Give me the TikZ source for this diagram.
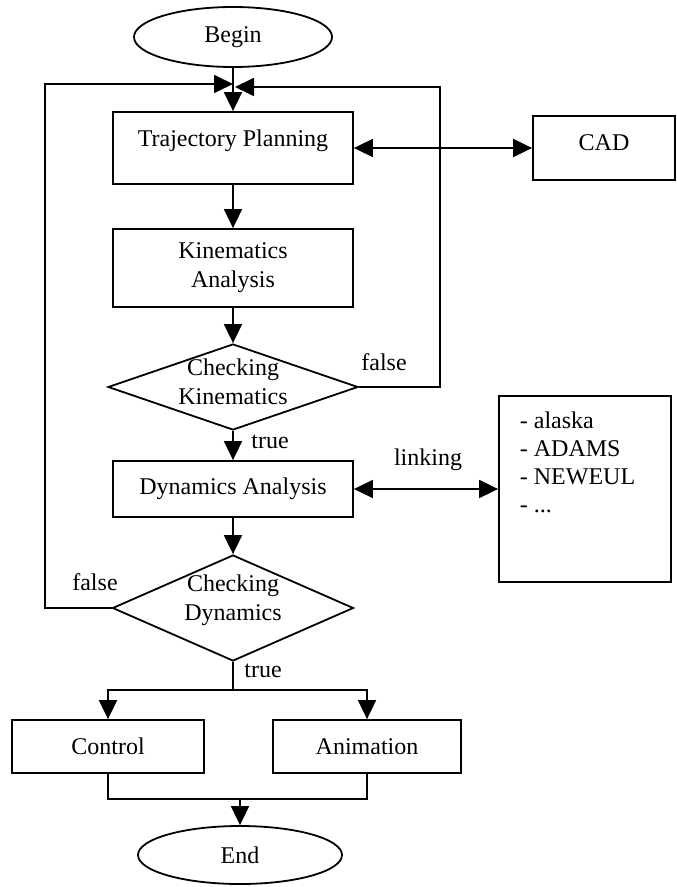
\documentclass[tikz,border=0pt]{standalone}
\usepackage{fontspec}
\setmainfont{Liberation Serif}
\usetikzlibrary{shapes.geometric,arrows.meta}
\begin{document}
\begin{tikzpicture}[x=0.5pt,y=-0.5pt,line width=0.9pt,>={Triangle[length=9.5pt,width=9pt]},font=\fontsize{12}{14.5}\selectfont,
        box/.style={draw,rectangle,minimum width=120pt,align=center,inner sep=0pt},
        oval/.style={draw,ellipse,inner sep=0pt},dia/.style={draw,diamond,inner sep=0pt}]
        \useasboundingbox(0,0)rectangle(676,887);
        \node[oval,minimum width=99pt,minimum height=30pt](begin)at(233,37){Begin};
        \node[box,minimum height=36pt,text depth=9.4pt](traj)at(233,148){Trajectory Planning};
        \node[box,minimum width=71pt,minimum height=32pt,text depth=5pt](cad)at(604,148){CAD};
        \node[box,minimum height=39pt](kin)at(233,268){Kinematics\\Analysis};
        \node[dia,minimum width=125pt,minimum height=43pt](chkin)at(233,387){};
        \node[align=center,inner sep=0pt](chkintxt)at(233,382){Checking\\Kinematics};
        \node[box,minimum height=28pt](dyn)at(233,489){Dynamics Analysis};
        \node[box,minimum width=86pt,minimum height=93pt](tools)at(585,489){};
        \node[anchor=west,align=left,inner sep=0pt,font=\fontsize{12}{14}\selectfont](toolstxt)at(519,462){- alaska\\- ADAMS\\- NEWEUL\\- ...};
        \node[dia,minimum width=120.5pt,minimum height=53pt](chdyn)at(233,608){};
        \node[align=center,inner sep=0pt](chdyntxt)at(233,600){Checking\\Dynamics};
        \node[box,minimum width=96pt,minimum height=26.5pt](ctrl)at(108,746.5){Control};
        \node[box,minimum width=94pt,minimum height=26.5pt](anim)at(367,746.5){Animation};
        \node[oval,minimum width=102pt,minimum height=29pt](end)at(240,855){End};
        \node(f1)at(384,362){false};\node(t1)at(270,442){true};\node(lnk)at(428,460){linking};
        \node(f2)at(95,582){false};\node(t2)at(263,671){true};
        \coordinate(inL)at(233,84);\coordinate(inR)at(235,87);
        \coordinate(split)at(233,690);\coordinate(merge)at(240,799);
        \draw[->](begin)--(traj);\draw[->](traj)--(kin);\draw[->](kin)--(chkin);
        \draw[->](chkin)--(dyn);\draw[->](dyn)--(chdyn);
        \draw[<->](traj.east)--(cad.west);\draw[<->](dyn.east)--(tools.west);
        \draw[->](chkin.east)--++(81,0)|-(inR);
        \draw[->](chdyn.west)--++(-67,0)|-(inL);
        \draw(chdyn)--(split);\draw[->](split)-|(ctrl);\draw[->](split)-|(anim);
        \draw(ctrl)|-(merge)-|(anim);\draw[->](merge)--(end);
    \end{tikzpicture}
\end{document}
